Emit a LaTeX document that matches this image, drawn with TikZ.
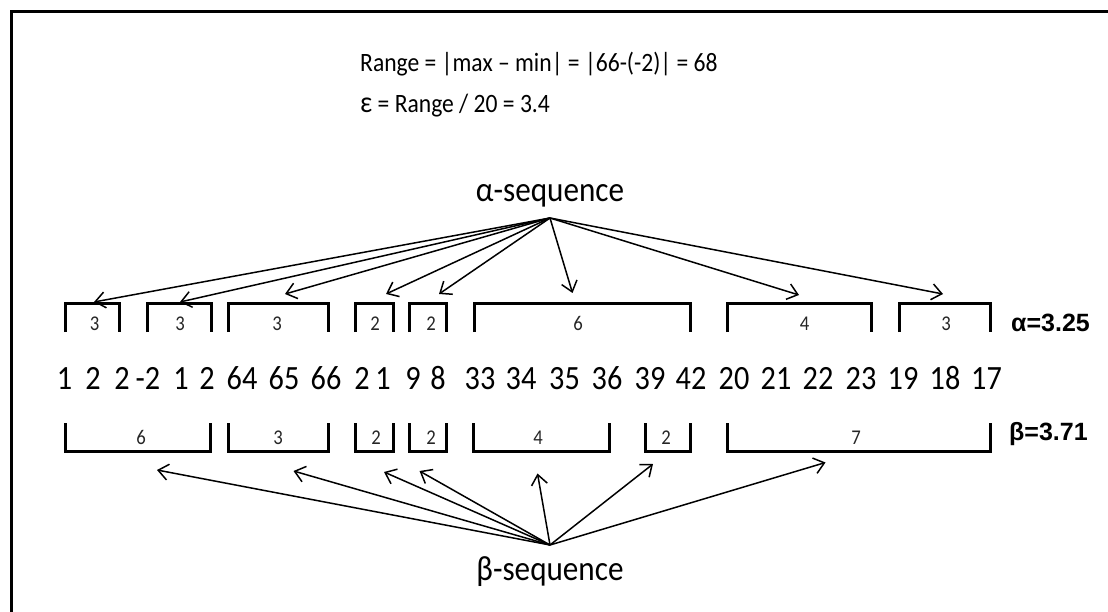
\documentclass[tikz,border=0pt]{standalone}
\usepackage{fontspec}
\setmainfont{Carlito}[FakeStretch=0.89]
\newfontfamily\vallab{Liberation Sans}
\usetikzlibrary{arrows.meta}
\tikzset{
  frameline/.style={line width=3pt},
  brk/.style={line width=3pt},
  arr/.style={line width=1.5pt, -{Straight Barb[length=10pt,width=16pt]}},
  num/.style={font=\fontsize{34}{40}\selectfont, anchor=base, inner sep=0pt},
  lab/.style={font=\fontsize{21}{24}\selectfont, anchor=base, inner sep=0pt, text=black!85},
  seq/.style={font=\fontsize{35}{40}\selectfont, anchor=base, inner sep=0pt},
  toptext/.style={font=\fontsize{26.5}{30}\selectfont, anchor=base west, inner sep=0pt},
  val/.style={font=\vallab\bfseries\fontsize{25}{30}\selectfont, anchor=base west, inner sep=0pt},
}
\newcommand\alphabr[5]{%
  \draw[brk] (#1,332) -- (#1,303) -- (#2,303) -- (#2,332);
  \node[lab] (#5) at (#3,330) {#4};}
\newcommand\betabr[5]{%
  \draw[brk] (#1,423) -- (#1,451) -- (#2,451) -- (#2,423);
  \node[lab] (#5) at (#3,444) {#4};}
\begin{document}
\begin{tikzpicture}[x=1pt,y=-1pt]
\useasboundingbox (0,0) rectangle (1108,612);
% frame
\draw[frameline] (11,613) -- (11,12) -- (1109,12);
% top formulas
\node[toptext] (range) at (360,72) {Range = |max – min| = |66-(-2)| = 68};
\node[toptext] (eps) at (360,113) {{\fontsize{30}{30}\selectfont ε} = Range / 20 = 3.4};
% sequence labels
\node[seq] (aseq) at (550,202) {α-sequence};
\node[seq] (bseq) at (550,580) {β-sequence};
\coordinate (aapex) at (550,218);
\coordinate (bapex) at (550,545);
% numbers
\foreach \x/\v [count=\i] in {64.5/1, 93/2, 122/2, 148/-2, 181/1, 207/2, 242/64, 284/65, 326/66, 362/2, 383/1, 413/9, 438/8, 480/33, 521/34, 564.5/35, 607/36, 650/39, 691/42, 734/20, 776/21, 818/22, 861/23, 903/19, 945/18, 986.5/17}
  \node[num] (n\i) at (\x,389) {\v};
% alpha brackets
\alphabr{65}{119.5}{94.5}{3}{al1}
\alphabr{147}{211}{180}{3}{al2}
\alphabr{228.5}{328.5}{277}{3}{al3}
\alphabr{355}{393}{375}{2}{al4}
\alphabr{409.5}{446}{431}{2}{al5}
\alphabr{474}{690}{578}{6}{al6}
\alphabr{727}{871.5}{804.5}{4}{al7}
\alphabr{899.5}{990}{946}{3}{al8}
\node[val] (aval) at (1011,331) {α=3.25};
% beta brackets
\betabr{65}{210.5}{141}{6}{bl1}
\betabr{228.5}{328.5}{278}{3}{bl2}
\betabr{355}{393}{376}{2}{bl3}
\betabr{409.5}{446}{431}{2}{bl4}
\betabr{473}{609}{538}{4}{bl5}
\betabr{645}{690}{666}{2}{bl6}
\betabr{727}{990}{856}{7}{bl7}
\node[val] (bval) at (1009,440) {β=3.71};
% alpha arrows
\coordinate (at1) at (94,302);
\coordinate (at2) at (180,302);
\coordinate (at3) at (285,294);
\coordinate (at4) at (386,294);
\coordinate (at5) at (439,294);
\coordinate (at6) at (572.5,293);
\coordinate (at7) at (799,295);
\coordinate (at8) at (943,294);
\foreach \i in {1,...,8} \draw[arr] (aapex) -- (at\i);
% beta arrows
\coordinate (bt1) at (157,470);
\coordinate (bt2) at (293.5,471);
\coordinate (bt3) at (384,472);
\coordinate (bt4) at (419.5,471);
\coordinate (bt5) at (537.5,473.5);
\coordinate (bt6) at (653,464);
\coordinate (bt7) at (825.5,462.5);
\foreach \i in {1,...,7} \draw[arr] (bapex) -- (bt\i);
\end{tikzpicture}
\end{document}
